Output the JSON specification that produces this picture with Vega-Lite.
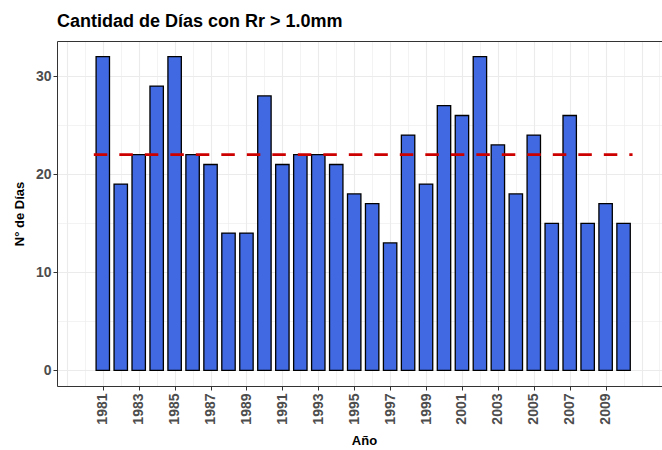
{
  "$schema": "https://vega.github.io/schema/vega-lite/v6.json",
  "width": 605,
  "height": 345,
  "autosize": {"type": "none"},
  "padding": {"left": 57, "top": 41, "right": 0, "bottom": 64},
  "background": "white",
  "config": {"view": {"stroke": null}, "font": "Liberation Sans"},
  "title": {"text": "Cantidad de Días con Rr > 1.0mm", "anchor": "start", "frame": "group", "fontSize": 18, "fontWeight": "bold", "color": "black", "offset": 10},
  "datasets": {
    "dias": [
      {"anio": 1981, "dias": 32}, {"anio": 1982, "dias": 19}, {"anio": 1983, "dias": 22}, {"anio": 1984, "dias": 29},
      {"anio": 1985, "dias": 32}, {"anio": 1986, "dias": 22}, {"anio": 1987, "dias": 21}, {"anio": 1988, "dias": 14},
      {"anio": 1989, "dias": 14}, {"anio": 1990, "dias": 28}, {"anio": 1991, "dias": 21}, {"anio": 1992, "dias": 22},
      {"anio": 1993, "dias": 22}, {"anio": 1994, "dias": 21}, {"anio": 1995, "dias": 18}, {"anio": 1996, "dias": 17},
      {"anio": 1997, "dias": 13}, {"anio": 1998, "dias": 24}, {"anio": 1999, "dias": 19}, {"anio": 2000, "dias": 27},
      {"anio": 2001, "dias": 26}, {"anio": 2002, "dias": 32}, {"anio": 2003, "dias": 23}, {"anio": 2004, "dias": 18},
      {"anio": 2005, "dias": 24}, {"anio": 2006, "dias": 15}, {"anio": 2007, "dias": 26}, {"anio": 2008, "dias": 15},
      {"anio": 2009, "dias": 17}, {"anio": 2010, "dias": 15}
    ],
    "media": [{"inicio": 1980.5, "fin": 2010.5, "promedio": 22}]
  },
  "layer": [
    {
      "data": {"name": "dias"},
      "mark": {"type": "bar", "orient": "vertical", "fill": "#4169E1", "stroke": "black", "strokeWidth": 1.3, "size": 13.4},
      "encoding": {
        "x": {
          "field": "anio", "type": "quantitative",
          "scale": {"domain": [1978.45, 2012.14], "nice": false, "zero": false, "padding": 0},
          "axis": {
            "values": [1979,1980,1981,1982,1983,1984,1985,1986,1987,1988,1989,1990,1991,1992,1993,1994,1995,1996,1997,1998,1999,2000,2001,2002,2003,2004,2005,2006,2007,2008,2009,2010,2011,2012],
            "format": "d",
            "labelExpr": "datum.value >= 1981 && datum.value <= 2009 && datum.value % 2 == 1 ? datum.label : ''",
            "tickOpacity": {"condition": {"test": "datum.value >= 1981 && datum.value <= 2009 && datum.value % 2 == 1", "value": 1}, "value": 0},
            "gridWidth": {"condition": {"test": "datum.value % 2 == 1", "value": 1.1}, "value": 0.6},
            "grid": true, "gridColor": "#EBEBEB",
            "labelAngle": -90, "labelAlign": "right", "labelBaseline": "middle",
            "labelFontSize": 14, "labelFontWeight": "bold", "labelColor": "#4D4D4D", "labelPadding": 3,
            "labelOverlap": false, "labelFlush": false, "labelBound": false,
            "tickColor": "#333333", "tickSize": 4, "tickWidth": 1,
            "domainColor": "#333333", "domainWidth": 1,
            "title": "Año", "titleFontSize": 13, "titleFontWeight": "bold", "titleColor": "black",
            "titlePadding": 10, "titleX": 307
          }
        },
        "y": {
          "field": "dias", "type": "quantitative",
          "scale": {"domain": [-1.6, 33.6], "nice": false, "zero": false},
          "axis": {
            "values": [0,5,10,15,20,25,30],
            "labelExpr": "datum.value % 10 == 0 ? datum.label : ''",
            "tickOpacity": {"condition": {"test": "datum.value % 10 == 0", "value": 1}, "value": 0},
            "gridWidth": {"condition": {"test": "datum.value % 10 == 0", "value": 1.1}, "value": 0.6},
            "grid": true, "gridColor": "#EBEBEB",
            "labelFontSize": 14, "labelFontWeight": "bold", "labelColor": "#4D4D4D", "labelPadding": 2,
            "tickColor": "#333333", "tickSize": 4, "tickWidth": 1,
            "domainColor": "#333333", "domainWidth": 1,
            "title": "N° de Días", "titleFontSize": 13, "titleFontWeight": "bold", "titleColor": "black",
            "titlePadding": 9
          }
        },
        "y2": {"datum": 0}
      }
    },
    {
      "data": {"name": "media"},
      "mark": {"type": "rule", "color": "#CD0000", "strokeWidth": 2.7, "strokeDash": [13.5, 12]},
      "encoding": {
        "x": {"field": "inicio", "type": "quantitative",
          "axis": {"orient": "top", "labels": false, "ticks": false, "grid": false, "title": null, "domainColor": "#333333", "domainWidth": 1}},
        "x2": {"field": "fin"},
        "y": {"field": "promedio", "type": "quantitative"}
      }
    }
  ],
  "resolve": {"axis": {"x": "independent"}}
}
